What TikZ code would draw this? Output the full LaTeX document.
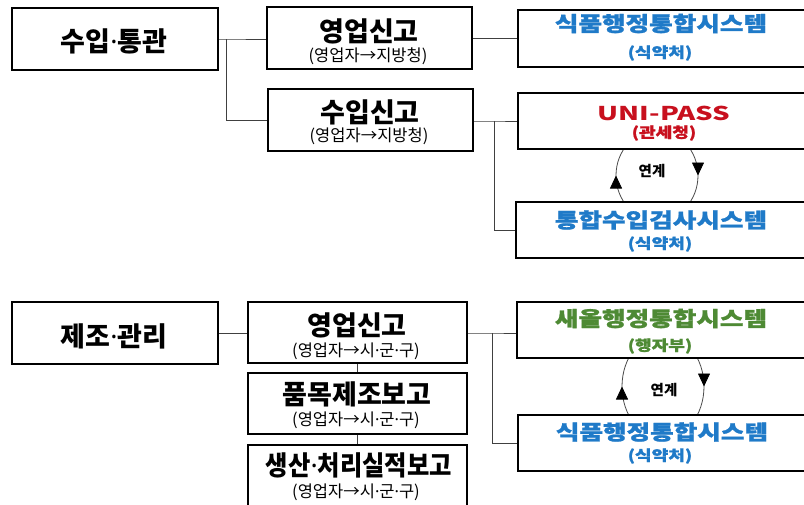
\documentclass[tikz,border=0pt]{standalone}
\usepackage{fontspec}
\setmainfont{Noto Sans CJK KR}
\newfontfamily\widefont{Noto Sans CJK KR}[FakeStretch=1.25, BoldFeatures={FakeBold=1.2}]
\newfontfamily\widerfont{Noto Sans CJK KR}[FakeStretch=1.45]
\newfontfamily\narrowfont{Noto Sans CJK KR}[FakeStretch=0.9]
\newfontfamily\latinfont{Noto Sans}
\newcommand\md{{\latinfont ·}}
\usetikzlibrary{arrows.meta,decorations.markings}
\definecolor{kblue}{RGB}{31,122,200}
\definecolor{kred}{RGB}{200,16,30}
\definecolor{kgreen}{RGB}{78,138,52}
\begin{document}
\begin{tikzpicture}[x=1pt,y=-1pt,
  box/.style={draw=black, line width=2.6pt, fill=white, inner sep=0pt},
  link/.style={draw=black!75, line width=0.9pt},
  head/.style={font=\fontsize{27}{30}\selectfont\bfseries, inner sep=0pt},
  headn/.style={font=\narrowfont\fontsize{27}{30}\selectfont\bfseries, inner sep=0pt},
  subtext/.style={font=\fontsize{16.5}{19}\selectfont, inner sep=0pt},
  syshead/.style={font=\widefont\fontsize{20.5}{24}\selectfont\bfseries, inner sep=0pt},
  sysheadw/.style={font=\widerfont\fontsize{19}{22}\selectfont\bfseries, inner sep=0pt},
  syssub/.style={font=\widefont\fontsize{14.5}{17}\selectfont\bfseries, inner sep=0pt},
  ringlabel/.style={font=\fontsize{14.5}{17}\selectfont\bfseries, inner sep=0pt},
  ring/.style={draw=black!70, line width=0.8pt},
  ringarrow/.style={postaction={decorate}, decoration={markings, mark=at position 0.5 with {\arrow[black]{Triangle[length=13pt,width=12pt]}}}},
]
\useasboundingbox (0,0) rectangle (804,504);
\clip (0,0) rectangle (804,504);
\fill[white] (0,0) rectangle (804,504);

% rings (link arrows between systems)
\draw[ring, ringarrow] (657,220.5) arc[start angle=90, end angle=270, x radius=41, y radius=45];
\draw[ring, ringarrow] (657,130.5) arc[start angle=270, end angle=450, x radius=41, y radius=45];
\draw[ring, ringarrow] (663,438.5) arc[start angle=90, end angle=270, x radius=41, y radius=52];
\draw[ring, ringarrow] (663,334.5) arc[start angle=270, end angle=450, x radius=41, y radius=52];

% boxes
\node[box, minimum width=206pt, minimum height=62pt] (A) at (115,39) {};
\node[box, minimum width=205pt, minimum height=62pt] (B) at (369.5,38) {};
\node[box, minimum width=205pt, minimum height=62pt] (C) at (370.5,120) {};
\node[box, minimum width=302pt, minimum height=57pt] (D) at (669,38.5) {};
\node[box, minimum width=302pt, minimum height=56pt] (E) at (669,121) {};
\node[box, minimum width=304pt, minimum height=56pt] (F) at (668,230) {};
\node[box, minimum width=206pt, minimum height=62pt] (G) at (115,333) {};
\node[box, minimum width=219pt, minimum height=61pt] (H) at (357.5,332.5) {};
\node[box, minimum width=219pt, minimum height=61pt] (I) at (357.5,403.5) {};
\node[box, minimum width=219pt, minimum height=75pt] (J) at (357.5,482.5) {};
\node[box, minimum width=303pt, minimum height=56pt] (K) at (668.5,330) {};
\node[box, minimum width=302pt, minimum height=56pt] (L) at (669,443) {};

% texts
\node[head] (tA) at (114,41) {수입\md 통관};
\node[head] (tB) at (369,31) {영업신고};
\node[subtext] (sB) at (368,56) {(영업자→지방청)};
\node[head] (tC) at (370,112) {수입신고};
\node[subtext] (sC) at (369,136) {(영업자→지방청)};
\node[syshead, text=kblue] (tD) at (661,23.5) {식품행정통합시스템};
\node[syssub, text=kblue] (sD) at (660,53) {(식약처)};
\node[sysheadw, text=kred] (tE) at (664,113.5) {UNI-PASS};
\node[syssub, text=kred] (sE) at (664,133) {(관세청)};
\node[syshead, text=kblue] (tF) at (661,220) {통합수입검사시스템};
\node[syssub, text=kblue] (sF) at (660,244) {(식약처)};
\node[ringlabel] (r1) at (652,171.5) {연계};

\node[head] (tG) at (114,336) {제조\md 관리};
\node[head] (tH) at (357,325) {영업신고};
\node[subtext] (sH) at (356,351) {(영업자→시\md 군\md 구)};
\node[head] (tI) at (357,394) {품목제조보고};
\node[subtext] (sI) at (356,420) {(영업자→시\md 군\md 구)};
\node[headn] (tJ) at (359,465.5) {생산\md 처리실적보고};
\node[subtext] (sJ) at (356,492.5) {(영업자→시\md 군\md 구)};
\node[syshead, text=kgreen] (tK) at (661,318.5) {새올행정통합시스템};
\node[syssub, text=kgreen] (sK) at (660,346) {(행자부)};
\node[syshead, text=kblue] (tL) at (662,432) {식품행정통합시스템};
\node[syssub, text=kblue] (sL) at (660,456) {(식약처)};
\node[ringlabel] (r2) at (664,390) {연계};

% connectors
\coordinate (ja) at (226,39);
\draw[link] (A.east) -- (ja) -- (ja -| B.west);
\draw[link] (ja) |- (C.west);
\draw[link] (B.east) -- (B.east -| D.west);
\coordinate (jc) at (494,121);
\draw[link] (C.east |- jc) -- (jc) -- (jc -| E.west);
\draw[link] (jc) |- (F.west);

\draw[link] (G.east) -- (G.east -| H.west);
\draw[link] (H.south) -- (I.north);
\draw[link] (I.south) -- (J.north);
\coordinate (jh) at (492,333);
\draw[link] (H.east |- jh) -- (jh) -- (jh -| K.west);
\draw[link] (jh) |- (L.west);
\end{tikzpicture}
\end{document}
